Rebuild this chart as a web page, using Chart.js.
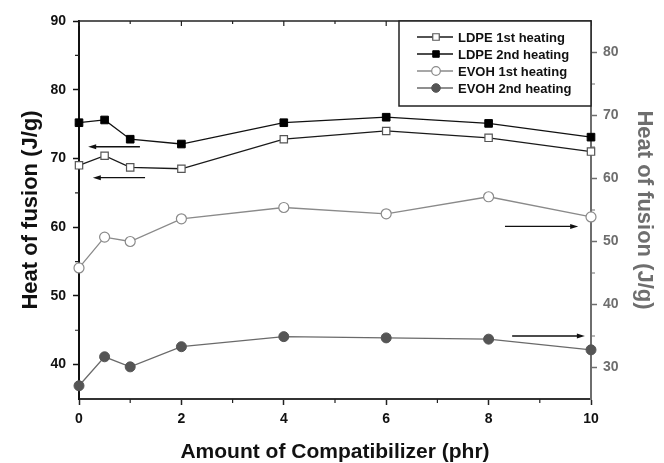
<!DOCTYPE html>
<html>
<head>
<meta charset="utf-8">
<script src="https://cdn.jsdelivr.net/npm/chart.js@4.4.0/dist/chart.umd.min.js"></script>
<style>
    html, body { margin: 0; padding: 0; background: #fff; }
</style>
</head>
<body>
<canvas id="chart" width="664" height="463"></canvas>
<script>
// Data
const compatibilizer = [0, 0.5, 1, 2, 4, 6, 8, 10];
const ldpeFirst  = [69.0, 70.4, 68.7, 68.5, 72.8, 74.0, 73.0, 71.0];
const ldpeSecond = [75.2, 75.6, 72.8, 72.1, 75.2, 76.0, 75.1, 73.1];
const evohFirst  = [45.8, 50.7, 50.0, 53.6, 55.4, 54.4, 57.1, 53.9];
const evohSecond = [27.1, 31.7, 30.1, 33.3, 34.9, 34.7, 34.5, 32.8];

const xTicks = [0, 2, 4, 6, 8, 10];
const xMinor = [1, 3, 5, 7, 9];
const leftTicks = [40, 50, 60, 70, 80, 90];
const leftMinor = [45, 55, 65, 75, 85];
const rightTicks = [30, 40, 50, 60, 70, 80];
const rightMinor = [35, 45, 55, 65, 75];

// Arrows telling which axis a pair of curves belongs to
const arrows = [
    { axis: 'yL', x0: 1.19, x1: 0.18, y: 71.7 },
    { axis: 'yL', x0: 1.29, x1: 0.27, y: 67.2 },
    { axis: 'yR', x0: 8.32, x1: 9.75, y: 52.4 },
    { axis: 'yR', x0: 8.46, x1: 9.88, y: 35.0 }
];

const pts = (ys) => compatibilizer.map((x, i) => ({ x: x, y: ys[i] }));
const GREY = '#6e6e6e';
const FONT = 'Liberation Sans, Arial, sans-serif';

const datasets = [
    {
        label: 'LDPE 1st heating', data: pts(ldpeFirst), yAxisID: 'yL',
        borderColor: '#1a1a1a', borderWidth: 1.3,
        pointStyle: 'rect', pointRadius: 5.2, pointBorderWidth: 1.2,
        pointBackgroundColor: '#fff', pointBorderColor: '#555'
    },
    {
        label: 'LDPE 2nd heating', data: pts(ldpeSecond), yAxisID: 'yL',
        borderColor: '#111', borderWidth: 1.3,
        pointStyle: 'rect', pointRadius: 5.4, pointBorderWidth: 1,
        pointBackgroundColor: '#000', pointBorderColor: '#000'
    },
    {
        label: 'EVOH 1st heating', data: pts(evohFirst), yAxisID: 'yR',
        borderColor: '#8a8a8a', borderWidth: 1.3,
        pointStyle: 'circle', pointRadius: 5, pointBorderWidth: 1.2,
        pointBackgroundColor: '#fff', pointBorderColor: '#8a8a8a'
    },
    {
        label: 'EVOH 2nd heating', data: pts(evohSecond), yAxisID: 'yR',
        borderColor: '#6a6a6a', borderWidth: 1.3,
        pointStyle: 'circle', pointRadius: 5, pointBorderWidth: 1,
        pointBackgroundColor: '#555', pointBorderColor: '#555'
    }
];
datasets.forEach(ds => { ds.clip = false; ds.tension = 0; ds.fill = false; });

// Minor ticks, top frame and its ticks
const framePlugin = {
    id: 'frame',
    beforeDatasetsDraw(chart) {
        const { ctx, chartArea: a, scales } = chart;
        ctx.save();
        ctx.strokeStyle = '#222';
        ctx.lineWidth = 1.5;
        ctx.beginPath();
        ctx.moveTo(a.left, a.top);
        ctx.lineTo(a.right, a.top);
        ctx.stroke();

        ctx.lineWidth = 1.2;
        ctx.beginPath();
        xTicks.forEach(v => {
            const px = scales.x.getPixelForValue(v);
            ctx.moveTo(px, a.top); ctx.lineTo(px, a.top + 5);
        });
        xMinor.forEach(v => {
            const px = scales.x.getPixelForValue(v);
            ctx.moveTo(px, a.bottom); ctx.lineTo(px, a.bottom + 4);
            ctx.moveTo(px, a.top); ctx.lineTo(px, a.top + 3);
        });
        leftMinor.forEach(v => {
            const py = scales.yL.getPixelForValue(v);
            ctx.moveTo(a.left, py); ctx.lineTo(a.left - 4, py);
        });
        ctx.stroke();

        ctx.strokeStyle = GREY;
        ctx.beginPath();
        rightMinor.forEach(v => {
            const py = scales.yR.getPixelForValue(v);
            ctx.moveTo(a.right, py); ctx.lineTo(a.right + 4, py);
        });
        ctx.stroke();
        ctx.restore();
    },
    afterDraw(chart) {
        const { ctx, chartArea: a, scales } = chart;
        ctx.save();

        // arrows
        ctx.strokeStyle = '#111';
        ctx.fillStyle = '#111';
        ctx.lineWidth = 1.3;
        arrows.forEach(ar => {
            const x0 = scales.x.getPixelForValue(ar.x0);
            const x1 = scales.x.getPixelForValue(ar.x1);
            const y = scales[ar.axis].getPixelForValue(ar.y);
            const dir = Math.sign(x1 - x0);
            ctx.beginPath();
            ctx.moveTo(x0, y);
            ctx.lineTo(x1 - dir * 6, y);
            ctx.stroke();
            ctx.beginPath();
            ctx.moveTo(x1, y);
            ctx.lineTo(x1 - dir * 8, y - 2.5);
            ctx.lineTo(x1 - dir * 8, y + 2.5);
            ctx.closePath();
            ctx.fill();
        });

        // legend box
        const bx = a.right - 192, by = a.top, bw = 192, bh = 85;
        ctx.fillStyle = '#fff';
        ctx.fillRect(bx, by, bw, bh);
        ctx.strokeStyle = '#222';
        ctx.lineWidth = 1.5;
        ctx.strokeRect(bx, by, bw, bh);

        ctx.font = 'bold 13px ' + FONT;
        ctx.textBaseline = 'middle';
        ctx.textAlign = 'left';
        chart.data.datasets.forEach((ds, i) => {
            const y = by + 16 + i * 17;
            ctx.strokeStyle = ds.borderColor;
            ctx.lineWidth = 1.3;
            ctx.beginPath();
            ctx.moveTo(bx + 18, y);
            ctx.lineTo(bx + 54, y);
            ctx.stroke();
            ctx.fillStyle = ds.pointBackgroundColor;
            ctx.strokeStyle = ds.pointBorderColor;
            ctx.lineWidth = ds.pointBorderWidth;
            Chart.helpers.drawPoint(ctx, {
                pointStyle: ds.pointStyle,
                radius: ds.pointStyle === 'rect' ? 4.6 : 4.3,
                rotation: 0,
                borderWidth: ds.pointBorderWidth
            }, bx + 37, y);
            ctx.fillStyle = '#111';
            ctx.fillText(ds.label, bx + 59, y + 1);
        });
        ctx.restore();
    }
};

new Chart(document.getElementById('chart'), {
    type: 'line',
    data: { datasets: datasets },
    options: {
        responsive: false,
        animation: false,
        layout: { padding: { top: 21, left: 0, right: 0, bottom: 0 } },
        plugins: { legend: { display: false }, tooltip: { enabled: false } },
        scales: {
            x: {
                type: 'linear', position: 'bottom', min: 0, max: 10,
                afterBuildTicks: s => { s.ticks = xTicks.map(v => ({ value: v })); },
                afterFit: s => { s.height = 64; },
                grid: { drawOnChartArea: false, tickLength: 6, tickColor: '#222', tickWidth: 1.5 },
                border: { color: '#333', width: 2 },
                ticks: { color: '#111', font: { family: FONT, size: 14, weight: 'bold' }, padding: 6, maxRotation: 0 },
                title: {
                    display: true, text: 'Amount of Compatibilizer (phr)', color: '#111',
                    font: { family: FONT, size: 21, weight: 'bold' }, padding: { top: 0, bottom: -2 }
                }
            },
            yL: {
                type: 'linear', position: 'left', min: 35, max: 90,
                afterBuildTicks: s => { s.ticks = leftTicks.map(v => ({ value: v })); },
                afterFit: s => { s.width = 79; },
                grid: { drawOnChartArea: false, tickLength: 6, tickColor: '#111', tickWidth: 1.5 },
                border: { color: '#111', width: 2 },
                ticks: { color: '#111', font: { family: FONT, size: 14, weight: 'bold' }, padding: 7 },
                title: {
                    display: true, text: 'Heat of fusion (J/g)', color: '#111',
                    font: { family: FONT, size: 22, weight: 'bold' }, padding: { top: 18, bottom: 0 }
                }
            },
            yR: {
                type: 'linear', position: 'right', min: 25, max: 85,
                afterBuildTicks: s => { s.ticks = rightTicks.map(v => ({ value: v })); },
                afterFit: s => { s.width = 73; },
                grid: { drawOnChartArea: false, tickLength: 6, tickColor: GREY, tickWidth: 1.5 },
                border: { color: GREY, width: 2 },
                ticks: { color: GREY, font: { family: FONT, size: 14, weight: 'bold' }, padding: 6 },
                title: {
                    display: true, text: 'Heat of fusion (J/g)', color: GREY,
                    font: { family: FONT, size: 22, weight: 'bold' }, padding: { top: 7, bottom: 0 }
                }
            }
        }
    },
    plugins: [framePlugin]
});
</script>
</body>
</html>
